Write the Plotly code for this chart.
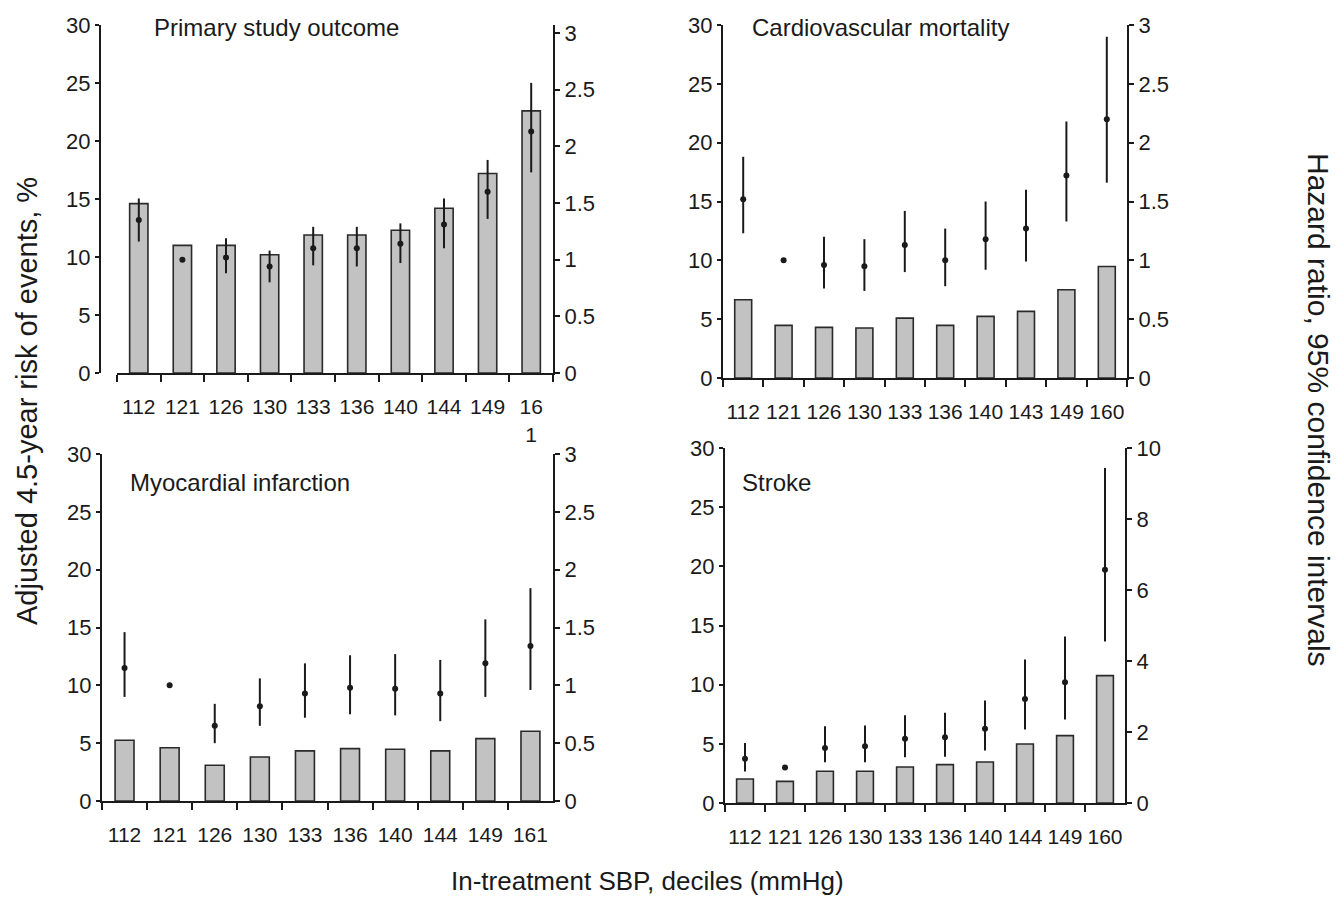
import plotly.graph_objects as go

W, H = 1343, 900

# ---------------- data ----------------
titles = ["Primary study outcome", "Cardiovascular mortality", "Myocardial infarction", "Stroke"]

p1_cats = ["112", "121", "126", "130", "133", "136", "140", "144", "149", "16<br>1"]
p1_risk = [14.6, 11.0, 11.0, 10.2, 11.9, 11.9, 12.3, 14.2, 17.2, 22.6]
p1_hr = [1.35, 1.00, 1.02, 0.94, 1.10, 1.10, 1.14, 1.31, 1.60, 2.13]
p1_lo = [1.16, 1.00, 0.88, 0.80, 0.95, 0.94, 0.97, 1.10, 1.36, 1.77]
p1_hi = [1.54, 1.00, 1.19, 1.08, 1.29, 1.29, 1.32, 1.54, 1.88, 2.56]

p2_cats = ["112", "121", "126", "130", "133", "136", "140", "143", "149", "160"]
p2_risk = [6.65, 4.47, 4.30, 4.25, 5.09, 4.47, 5.24, 5.66, 7.50, 9.48]
p2_hr = [1.52, 1.00, 0.96, 0.95, 1.13, 1.00, 1.18, 1.27, 1.72, 2.20]
p2_lo = [1.23, 1.00, 0.76, 0.74, 0.90, 0.78, 0.92, 0.99, 1.33, 1.66]
p2_hi = [1.88, 1.00, 1.20, 1.18, 1.42, 1.27, 1.50, 1.60, 2.18, 2.90]

p3_cats = ["112", "121", "126", "130", "133", "136", "140", "144", "149", "161"]
p3_risk = [5.25, 4.61, 3.09, 3.81, 4.33, 4.53, 4.47, 4.33, 5.39, 6.03]
p3_hr = [1.15, 1.00, 0.65, 0.82, 0.93, 0.98, 0.97, 0.93, 1.19, 1.34]
p3_lo = [0.90, 1.00, 0.50, 0.65, 0.72, 0.75, 0.74, 0.69, 0.90, 0.96]
p3_hi = [1.46, 1.00, 0.84, 1.06, 1.19, 1.26, 1.27, 1.22, 1.57, 1.84]

p4_cats = ["112", "121", "126", "130", "133", "136", "140", "144", "149", "160"]
p4_risk = [2.03, 1.83, 2.68, 2.68, 3.04, 3.24, 3.46, 4.99, 5.69, 10.76]
p4_hr = [1.25, 1.00, 1.55, 1.60, 1.81, 1.85, 2.09, 2.93, 3.40, 6.57]
p4_lo = [0.89, 1.00, 1.15, 1.15, 1.29, 1.30, 1.48, 2.07, 2.35, 4.55]
p4_hi = [1.69, 1.00, 2.16, 2.18, 2.47, 2.54, 2.89, 4.04, 4.69, 9.44]

left_ticks = [0, 5, 10, 15, 20, 25, 30]
hr_ticks_small = [0, 0.5, 1, 1.5, 2, 2.5, 3]
hr_text_small = ["0", "0.5", "1", "1.5", "2", "2.5", "3"]
hr_ticks_big = [0, 2, 4, 6, 8, 10]
hr_text_big = ["0", "2", "4", "6", "8", "10"]

x_title = "In-treatment SBP, deciles (mmHg)"
y_title = "Adjusted 4.5-year risk of events, %"
y2_title = "Hazard ratio, 95% confidence intervals"

# ---------------- layout geometry (pixels) ----------------
FONT = "Liberation Sans, Arial, Helvetica, sans-serif"
INK = "#1a1a1a"
BAR_FILL = "#c2c2c2"

panels = [
    dict(cats=p1_cats, risk=p1_risk, hr=p1_hr, lo=p1_lo, hi=p1_hi,
         x0=117, x1=553, yt=25, yb=373, left_px=100, r2=3 * 348 / 340,
         tv=hr_ticks_small, tt=hr_text_small, title_xy=(152, 27)),
    dict(cats=p2_cats, risk=p2_risk, hr=p2_hr, lo=p2_lo, hi=p2_hi,
         x0=723, x1=1127, yt=25, yb=378, left_px=None, r2=3,
         tv=hr_ticks_small, tt=hr_text_small, title_xy=(750, 27)),
    dict(cats=p3_cats, risk=p3_risk, hr=p3_hr, lo=p3_lo, hi=p3_hi,
         x0=102, x1=553, yt=454, yb=801, left_px=None, r2=3,
         tv=hr_ticks_small, tt=hr_text_small, title_xy=(128, 482)),
    dict(cats=p4_cats, risk=p4_risk, hr=p4_hr, lo=p4_lo, hi=p4_hi,
         x0=725, x1=1125, yt=448, yb=803, left_px=None, r2=10,
         tv=hr_ticks_big, tt=hr_text_big, title_xy=(740, 482)),
]

fig = go.Figure()
layout = {}
annotations = []

for i, p in enumerate(panels, start=1):
    xa = "x" if i == 1 else f"x{i}"
    yl_n = 2 * i - 1
    yr_n = 2 * i
    yl = "y" if yl_n == 1 else f"y{yl_n}"
    yr = f"y{yr_n}"

    fig.add_trace(go.Bar(
        x=p["cats"], y=p["risk"], xaxis=xa, yaxis=yl, width=0.42,
        marker=dict(color=BAR_FILL, line=dict(color="#2a2a2a", width=1.6)),
        showlegend=False, hoverinfo="skip"))
    fig.add_trace(go.Scatter(
        x=p["cats"], y=p["hr"], xaxis=xa, yaxis=yr, mode="markers",
        marker=dict(color=INK, size=6),
        error_y=dict(type="data", symmetric=False,
                     array=[h - m for h, m in zip(p["hi"], p["hr"])],
                     arrayminus=[m - l for m, l in zip(p["hr"], p["lo"])],
                     width=0, thickness=2, color=INK),
        showlegend=False, hoverinfo="skip"))

    ydom = [1 - p["yb"] / H, 1 - p["yt"] / H]
    layout["xaxis" if i == 1 else f"xaxis{i}"] = dict(
        domain=[p["x0"] / W, p["x1"] / W], type="category", automargin=False,
        categoryorder="array", categoryarray=p["cats"],
        tickmode="array", tickvals=p["cats"], ticktext=p["cats"], tickangle=0,
        range=[-0.5, 9.5], anchor=yl, showline=True, linecolor=INK, linewidth=2,
        ticks="outside", ticklen=7, tickwidth=1.5, tickcolor=INK, tickson="boundaries",
        tickfont=dict(family=FONT, size=21, color=INK), ticklabelstandoff=14,
        showgrid=False, zeroline=False, fixedrange=True)
    left = dict(
        domain=ydom, range=[0, 30], tickmode="array", tickvals=left_ticks,
        automargin=False,
        showline=True, linecolor=INK, linewidth=2, ticks="outside", ticklen=4,
        tickwidth=1.5, tickcolor=INK, tickfont=dict(family=FONT, size=22, color=INK),
        showgrid=False, zeroline=False, fixedrange=True)
    if p["left_px"] is not None:
        left.update(anchor="free", position=p["left_px"] / W)
    else:
        left.update(anchor=xa)
    layout["yaxis" if yl_n == 1 else f"yaxis{yl_n}"] = left
    layout[f"yaxis{yr_n}"] = dict(
        domain=ydom, overlaying=yl, side="right", anchor=xa, range=[0, p["r2"]],
        automargin=False,
        tickmode="array", tickvals=p["tv"], ticktext=p["tt"],
        showline=True, linecolor=INK, linewidth=2, ticks="outside", ticklen=5,
        tickwidth=1.5, tickcolor=INK, tickfont=dict(family=FONT, size=22, color=INK),
        showgrid=False, zeroline=False, fixedrange=True)

    tx, ty = p["title_xy"]
    annotations.append(dict(
        text=titles[i - 1], x=tx / W, y=1 - ty / H, xref="paper", yref="paper",
        xanchor="left", yanchor="middle", showarrow=False,
        font=dict(family=FONT, size=24, color=INK)))

annotations += [
    dict(text=x_title, x=647 / W, y=1 - 881 / H, xref="paper", yref="paper",
         xanchor="center", yanchor="middle", showarrow=False,
         font=dict(family=FONT, size=26, color=INK)),
    dict(text=y_title, x=27 / W, y=1 - 401 / H, xref="paper", yref="paper",
         xanchor="center", yanchor="middle", showarrow=False, textangle=-90,
         font=dict(family=FONT, size=29, color=INK)),
    dict(text=y2_title, x=1318 / W, y=1 - 410 / H, xref="paper", yref="paper",
         xanchor="center", yanchor="middle", showarrow=False, textangle=90,
         font=dict(family=FONT, size=30, color=INK)),
]

fig.update_layout(
    width=W, height=H, autosize=False,
    margin=dict(l=0, r=0, t=0, b=0, pad=0, autoexpand=False),
    paper_bgcolor="white", plot_bgcolor="rgba(0,0,0,0)",
    bargap=0.58, annotations=annotations, **layout)

fig.write_html(
    "out.html", config=dict(displayModeBar=False),
    post_script=(
        "document.documentElement.style.overflow='hidden';"
        "document.body.style.margin='0';"
        "document.body.style.padding='0';"
        "document.body.style.overflow='hidden';"))
